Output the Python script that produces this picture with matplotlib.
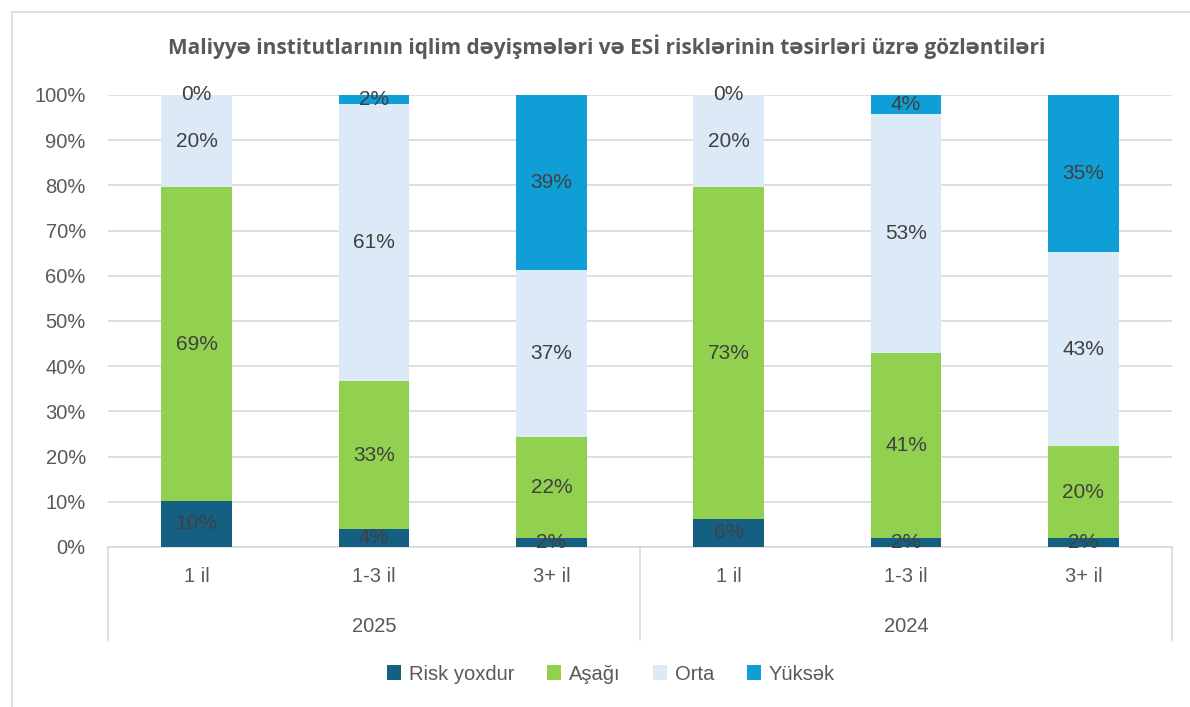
import matplotlib

matplotlib.use('Agg')
import matplotlib.pyplot as plt
import matplotlib.transforms as mtransforms
from matplotlib.patches import Rectangle
import numpy as np

plt.rcParams['font.family'] = ['Liberation Sans', 'DejaVu Sans']

# data (percent of institutions)
years = ['2025', '2024']
horizons = ['1 il', '1-3 il', '3+ il']
series = ['Risk yoxdur', 'Aşağı', 'Orta', 'Yüksək']
risk_yoxdur = [10.2, 4.0, 2.0, 6.2, 2.0, 2.0]
asagi = [69.4, 32.7, 22.3, 73.4, 40.9, 20.3]
orta = [20.4, 61.3, 37.0, 20.4, 52.9, 43.0]
yuksek = [0.0, 2.0, 38.7, 0.0, 4.2, 34.7]

colors = ['#156082', '#92D050', '#DCE9F6', '#0F9ED5']
title = 'Maliyyə institutlarının iqlim dəyişmələri və ESİ risklərinin təsirləri üzrə gözləntiləri'

fig = plt.figure(figsize=(11.9, 7.07), dpi=100)
# outer chart border
fig.patches.append(Rectangle((12 / 1190, -0.01), 1.0, 1 - 12 / 707 + 0.01,
                             transform=fig.transFigure, fill=False,
                             edgecolor='#D9D9D9', linewidth=1.2))

ax = fig.add_axes([108 / 1190, 1 - 547 / 707, (1172 - 108) / 1190, (547 - 95) / 707])

x = np.arange(len(risk_yoxdur))
bottom = np.zeros(len(x))
for vals, name, col in zip([risk_yoxdur, asagi, orta, yuksek], series, colors):
    vals = np.array(vals)
    ax.bar(x, vals, 0.4, bottom=bottom, color=col, label=name, zorder=3)
    for xi, v, b in zip(x, vals, bottom):
        ax.text(xi, b + v / 2, f'{v:.0f}%', ha='center', va='center',
                fontsize=15, color='#404040', zorder=4)
    bottom += vals

ax.set_xlim(-0.5, 5.5)
ax.set_ylim(0, 100)
ax.set_yticks(np.arange(0, 101, 10))
ax.set_yticklabels([f'{t}%' for t in range(0, 101, 10)], fontsize=14.5, color='#595959')
ax.tick_params(axis='y', length=0, pad=16)
ax.set_xticks([])
ax.grid(axis='y', color='#D9D9D9', linewidth=1.2, zorder=0)
for s in ['top', 'right', 'left']:
    ax.spines[s].set_visible(False)
ax.spines['bottom'].set_color('#D9D9D9')
ax.spines['bottom'].set_linewidth(1.2)

# two-level category axis
trans = mtransforms.blended_transform_factory(ax.transData, ax.transAxes)
for xv in [-0.5, 2.5, 5.5]:
    ax.plot([xv, xv], [0, -0.206], transform=trans, color='#D9D9D9',
            linewidth=1.2, clip_on=False)
for i, xi in enumerate(x):
    ax.text(xi, -0.066, horizons[i % 3], transform=trans, ha='center', va='center',
            fontsize=14.5, color='#595959')
for g, yr in enumerate(years):
    ax.text(g * 3 + 1, -0.175, yr, transform=trans, ha='center', va='center',
            fontsize=14.5, color='#595959')

fig.text(607 / 1190, 1 - 47 / 707, title, ha='center', va='center',
         fontsize=15, fontweight='bold', color='#595959',
         family=['Open Sans', 'DejaVu Sans'])

fig.legend(loc='center', bbox_to_anchor=(611 / 1190, 1 - 674 / 707), ncol=4,
           frameon=False, fontsize=14.5, handlelength=0.7, handleheight=0.7,
           handletextpad=0.4, columnspacing=1.6, labelcolor='#595959')

fig.savefig('out.png', dpi=100)
